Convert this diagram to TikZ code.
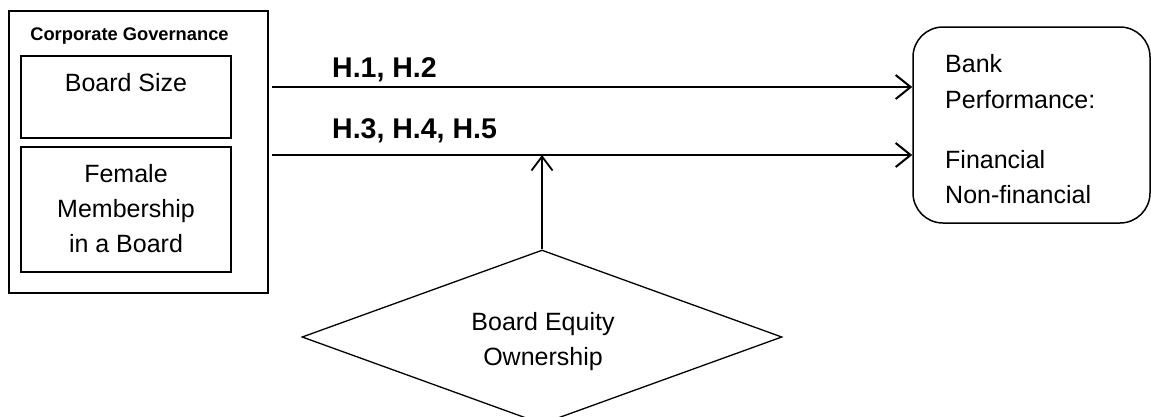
\documentclass[tikz,border=0pt]{standalone}
\usepackage{fontspec}
\setmainfont{Liberation Sans}
\usetikzlibrary{arrows.meta,shapes.geometric}
\begin{document}
\begin{tikzpicture}[x=1pt,y=-1pt,
  box/.style={draw=black,line width=1.5pt,rectangle,inner sep=0pt},
  txt/.style={font=\fontsize{25}{35}\selectfont,inner sep=0pt,anchor=base},
  hlab/.style={font=\fontsize{28.5}{34}\selectfont\bfseries,inner sep=0pt,anchor=base west},
  arr/.style={line width=2.2pt,-{Straight Barb[length=15pt,width=24pt,line width=2pt]}},
  varr/.style={line width=2pt,-{Straight Barb[length=14pt,width=21pt,line width=1.8pt]}}]
\useasboundingbox (0,0) rectangle (1151,416);
\fill[white] (0,0) rectangle (1151,416);
% boxes
\node[box,minimum width=259pt,minimum height=282pt] (outer) at (138.5,152) {};
\node[box,minimum width=210pt,minimum height=82pt] (bsize) at (126,97) {};
\node[box,minimum width=210pt,minimum height=125pt] (fem) at (126,209.5) {};
\node[box,rounded corners=30pt,minimum width=237pt,minimum height=196pt] (perf) at (1031.5,125) {};
\node[draw=black,line width=1.3pt,diamond,inner sep=0pt,shape aspect=2.76,minimum width=480pt,minimum height=174pt] (bdo) at (542,337) {};
% texts (multi-line nodes: base = last line's baseline)
\node[font=\fontsize{18.3}{21}\selectfont\bfseries,inner sep=0pt,anchor=base] (cg) at (129.5,40) {Corporate Governance};
\node[txt] (bstext) at (126,91) {Board Size};
\node[txt,align=center] (femtext) at (126,252) {Female\\Membership\\in a Board};
\node[txt,anchor=base west] (bank) at (945,72) {Bank};
\node[txt,anchor=base west] (perftext) at (945,108) {Performance:};
\node[txt,anchor=base west] (fin) at (945,168) {Financial};
\begin{scope}
\clip (900,0) rectangle (1151,204.5);
\node[txt,anchor=base west] (nonfin) at (945,203) {Non-financial};
\end{scope}
\node[txt,align=center] (bdotext) at (543,365) {Board Equity\\Ownership};
% connectors
\coordinate (s1) at (272,87);
\coordinate (s2) at (272,155);
\draw[arr] (s1) -- (s1 -| perf.west);
\draw[arr] (s2) -- (s2 -| perf.west);
\draw[varr] (bdo.north) -- (bdo.north |- s2);
% labels
\node[hlab] (h12) at (332,77) {H.1, H.2};
\node[hlab] (h345) at (332,138) {H.3, H.4, H.5};
\end{tikzpicture}
\end{document}
